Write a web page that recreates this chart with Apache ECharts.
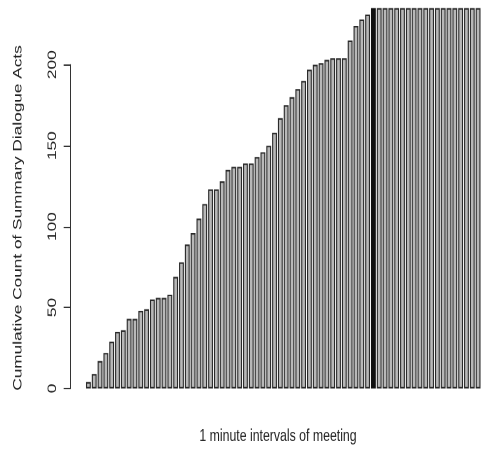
<!DOCTYPE html>
<html>
<head>
<meta charset="utf-8">
<script src="https://cdn.jsdelivr.net/npm/echarts@6/dist/echarts.min.js"></script>
<style>
  html, body { margin: 0; padding: 0; background: #ffffff; }
  #frame { position: relative; width: 481px; height: 455px; }
  /* the figure is drawn on a short canvas and stretched to full height */
  #chart {
    position: absolute; left: 0; top: 0;
    width: 481px; height: 325px;
    transform: scaleY(1.4); transform-origin: 0 0;
  }
</style>
</head>
<body>
<div id="frame"><div id="chart"></div></div>
<script>
// Cumulative count of summary dialogue acts, one bar per minute of the meeting
const minutes = Array.from({ length: 68 }, (_, i) => String(i + 1));
const cumulativeCounts = [
  4, 9, 17, 22, 29, 35, 36, 43, 43, 48,
  49, 55, 56, 56, 58, 69, 78, 89, 96, 105,
  114, 123, 123, 128, 135, 137, 137, 139, 139, 143,
  146, 150, 158, 167, 175, 180, 185, 190, 197, 200,
  201, 203, 204, 204, 204, 215, 224, 228, 231, 235,
  235, 235, 235, 235, 235, 235, 235, 235, 235, 235,
  235, 235, 235, 235, 235, 235, 235, 235
];
// the minute whose bar is filled black
const highlightMinute = 50;
const yTicks = [0, 50, 100, 150, 200];
const yTitle = 'Cumulative Count of Summary Dialogue Acts';
const xTitle = '1 minute intervals of meeting';

const FONT = 'Liberation Sans, Arial, Helvetica, sans-serif';

const barData = cumulativeCounts.map((v, i) =>
  (i + 1 === highlightMinute)
    ? { value: v, itemStyle: { color: '#111111', borderColor: '#111111' } }
    : v
);

const chart = echarts.init(document.getElementById('chart'), null,
  { renderer: 'canvas', devicePixelRatio: 2 });

chart.setOption({
  animation: false,
  backgroundColor: '#ffffff',
  grid: [
    // plotting area for the bars
    { left: 85.5, top: 0, width: 395.8, height: 277.5 },
    // strip that carries the visible y axis (0..200)
    { left: 70.7, top: 46.2, width: 10, height: 231.3 }
  ],
  xAxis: [
    {
      type: 'category', gridIndex: 0, data: minutes, boundaryGap: true,
      axisLine: { show: false }, axisTick: { show: false },
      axisLabel: { show: false }, splitLine: { show: false }
    },
    { type: 'value', gridIndex: 1, show: false, min: 0, max: 1 }
  ],
  yAxis: [
    {
      type: 'value', gridIndex: 0, min: 0, max: 240, show: false,
      splitLine: { show: false }
    },
    {
      type: 'value', gridIndex: 1, min: yTicks[0], max: yTicks[yTicks.length - 1],
      interval: 50, position: 'left',
      axisLine: { show: true, lineStyle: { color: '#333333', width: 1 } },
      axisTick: { show: true, inside: false, length: 7, lineStyle: { color: '#333333', width: 1 } },
      axisLabel: {
        show: true, rotate: 90, margin: 12, fontSize: 12.3, color: '#222222',
        fontFamily: FONT
      },
      splitLine: { show: false }
    }
  ],
  graphic: [
    {
      type: 'text', x: 18, y: 155.7, rotation: Math.PI / 2,
      style: {
        text: yTitle, fill: '#222222', font: '12.3px ' + FONT,
        textAlign: 'center', textVerticalAlign: 'middle'
      }
    },
    {
      type: 'text', x: 278, y: 311.4,
      style: {
        text: xTitle, fill: '#222222', font: '12.3px ' + FONT,
        textAlign: 'center', textVerticalAlign: 'middle'
      }
    }
  ],
  series: [
    {
      type: 'bar', xAxisIndex: 0, yAxisIndex: 0,
      data: barData,
      barCategoryGap: '16.7%',
      itemStyle: { color: '#b8b8b8', borderColor: '#2a2a2a', borderWidth: 1.1 }
    }
  ]
});
</script>
</body>
</html>
